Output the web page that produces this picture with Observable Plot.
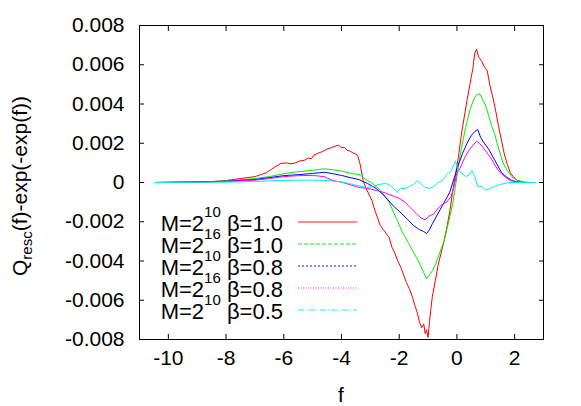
<!DOCTYPE html>
<html><head><meta charset="utf-8">
<script src="https://cdn.jsdelivr.net/npm/d3@7"></script>
<script src="https://cdn.jsdelivr.net/npm/@observablehq/plot@0.6"></script>
<style>
html,body{margin:0;padding:0;background:#fff}
svg{font-family:"Liberation Sans",Arial,Helvetica,sans-serif}
</style>
</head><body><div id="chart"></div>
<script>
// ---- data ----
const seriesNames = ["M=2^10 b=1.0", "M=2^16 b=1.0", "M=2^10 b=0.8", "M=2^16 b=0.8", "M=2^10 b=0.5"];
const seriesExp = ["10", "16", "10", "16", "10"];
const seriesBeta = ["1.0", "1.0", "0.8", "0.8", "0.5"];
const seriesColors = ["#ff0000", "#00ee00", "#0000ff", "#ff00ff", "#00eeee"];
const seriesDash = [null, "4,2", "2,2", "1,1.5", "6,2,1,2"];

const xTicks = [-10, -8, -6, -4, -2, 0, 2];
const yTicks = [-0.008, -0.006, -0.004, -0.002, 0, 0.002, 0.004, 0.006, 0.008];

const redF = [-10.45,-9.5,-8.5,-8,-7.5,-7,-6.6,-6.3,-6.1,-5.9,-5.75,-5.6,-5.45,-5.3,-5.15,-5.05,-4.95,-4.8,-4.65,-4.5,-4.35,-4.2,-4.1,-4.0,-3.9,-3.8,-3.7,-3.6,-3.5,-3.42,-3.35,-3.25,-3.15,-3.05,-2.95,-2.85,-2.75,-2.65,-2.55,-2.45,-2.35,-2.25,-2.15,-2.05,-1.95,-1.85,-1.75,-1.65,-1.55,-1.45,-1.38,-1.3,-1.22,-1.15,-1.1,-1.05,-1.0,-0.95,-0.9,-0.85,-0.75,-0.65,-0.55,-0.45,-0.35,-0.25,-0.15,-0.05,0.05,0.15,0.25,0.35,0.45,0.55,0.62,0.68,0.75,0.85,0.95,1.05,1.15,1.25,1.35,1.45,1.55,1.65,1.75,1.85,1.95,2.1,2.3,2.5,2.7];
const redQ = [0,0.00002,0.00005,0.0001,0.0002,0.0003,0.0005,0.0008,0.00097,0.001,0.00095,0.001,0.0011,0.00112,0.00125,0.0012,0.0014,0.0015,0.00158,0.0017,0.00178,0.00186,0.0019,0.00178,0.0018,0.00163,0.0016,0.0015,0.00145,0.0013,0.0009,0.0001,-0.0003,-0.0006,-0.0009,-0.0014,-0.0018,-0.0022,-0.0024,-0.0026,-0.0028,-0.0033,-0.0036,-0.004,-0.0043,-0.0047,-0.0051,-0.0054,-0.0058,-0.0063,-0.0066,-0.0071,-0.0074,-0.0072,-0.0077,-0.0075,-0.0079,-0.0071,-0.0064,-0.0058,-0.005,-0.0042,-0.0036,-0.003,-0.0023,-0.0015,-0.0005,0.0004,0.0013,0.0024,0.0033,0.0042,0.005,0.0058,0.0066,0.0068,0.0064,0.0062,0.0059,0.0057,0.0049,0.0043,0.0036,0.0028,0.0021,0.0014,0.0009,0.0005,0.0003,0.0001,0.00003,0,0];

const greenF = [-10.45,-9,-8,-7,-6.5,-6,-5.5,-5,-4.6,-4.3,-4,-3.7,-3.5,-3.35,-3.25,-3.1,-2.95,-2.8,-2.65,-2.5,-2.35,-2.2,-2.05,-1.9,-1.75,-1.6,-1.45,-1.3,-1.15,-1.05,-0.95,-0.85,-0.75,-0.6,-0.45,-0.3,-0.15,-0.05,0.05,0.15,0.3,0.45,0.6,0.7,0.8,0.9,1.0,1.1,1.2,1.3,1.45,1.6,1.75,1.9,2.1,2.4,2.7];
const greenQ = [0,0.00002,0.00008,0.0002,0.0003,0.00045,0.00055,0.00062,0.0007,0.00065,0.00058,0.00048,0.00042,0.0004,0.00025,0.0001,-0.00002,-0.0002,-0.0004,-0.0007,-0.001,-0.0015,-0.002,-0.0025,-0.0029,-0.0033,-0.0037,-0.0041,-0.0046,-0.0049,-0.0047,-0.0045,-0.0042,-0.0036,-0.003,-0.0021,-0.0011,-0.0002,0.0008,0.0017,0.0028,0.0037,0.0043,0.0045,0.0045,0.0042,0.0039,0.0034,0.0029,0.0025,0.0017,0.001,0.0006,0.0003,0.0001,0,0];

const blueF = [-10.45,-9,-8,-7,-6.5,-6,-5.5,-5,-4.6,-4.3,-4,-3.7,-3.4,-3.1,-2.8,-2.5,-2.2,-1.9,-1.7,-1.5,-1.3,-1.15,-1.05,-0.95,-0.85,-0.7,-0.55,-0.4,-0.25,-0.1,0.05,0.2,0.35,0.5,0.62,0.72,0.82,0.95,1.1,1.25,1.4,1.55,1.7,1.9,2.2,2.7];
const blueQ = [0,0.00002,0.00006,0.00015,0.00025,0.00035,0.0004,0.00046,0.00052,0.00045,0.00036,0.00025,0.00015,-0.00005,-0.0003,-0.0007,-0.0012,-0.0016,-0.0019,-0.0022,-0.0024,-0.0025,-0.0026,-0.0024,-0.0021,-0.0017,-0.0013,-0.0009,-0.0005,0.0002,0.0009,0.0015,0.002,0.0024,0.0026,0.0027,0.0023,0.002,0.0017,0.0013,0.0009,0.0005,0.0003,0.0001,0,0];

const magentaF = [-10.45,-9,-8,-7,-6.5,-6,-5.5,-5,-4.6,-4.3,-4,-3.7,-3.4,-3.1,-2.8,-2.5,-2.2,-2.0,-1.8,-1.6,-1.4,-1.25,-1.1,-0.95,-0.8,-0.65,-0.5,-0.35,-0.2,-0.1,0,0.1,0.25,0.4,0.55,0.68,0.78,0.9,1.05,1.2,1.35,1.5,1.65,1.85,2.2,2.7];
const magentaQ = [0,0.00002,0.00005,0.00012,0.0002,0.0003,0.00035,0.00036,0.0003,0.0001,0.00002,-0.00012,-0.00025,-0.0003,-0.0004,-0.00052,-0.0007,-0.0008,-0.001,-0.0013,-0.0016,-0.0018,-0.0019,-0.0017,-0.0016,-0.0013,-0.0011,-0.001,-0.0007,-0.0002,0.0005,0.0007,0.0012,0.0016,0.0019,0.0021,0.002,0.0018,0.0015,0.0012,0.0008,0.0005,0.0003,0.0001,0,0];

const cyanF = [-10.45,-8,-7,-6.2,-5.5,-5,-4.5,-4,-3.6,-3.3,-3.1,-2.9,-2.7,-2.5,-2.35,-2.2,-2.07,-1.95,-1.8,-1.65,-1.5,-1.38,-1.25,-1.1,-0.95,-0.8,-0.65,-0.5,-0.35,-0.2,-0.1,-0.05,0.05,0.15,0.3,0.42,0.52,0.62,0.72,0.85,1.0,1.15,1.3,1.5,1.8,2.7];
const cyanQ = [0,0.00002,0.00005,0.0001,0.00012,0.00012,0.0001,0.00003,-0.0001,-0.0002,-0.00025,-0.0002,-0.0001,-0.00005,-0.0001,-0.0003,-0.0005,-0.0003,-0.0003,-0.0002,-0.0001,0.0001,-0.00005,-0.00025,-0.0003,-0.0002,0,0.0001,0.0004,0.0006,0.0009,0.0011,0.0006,0.0005,0.0003,0.0004,0.0006,0.0003,-0.0002,-0.0002,-0.0004,-0.0003,-0.0002,-0.0001,0,0];

const seriesF = [redF, greenF, blueF, magentaF, cyanF];
const seriesQ = [redQ, greenQ, blueQ, magentaQ, cyanQ];

const rows = [];
seriesNames.forEach((name, i) => {
  seriesF[i].forEach((f, j) => rows.push({series: name, f, q: seriesQ[i][j]}));
});

const fmtY = d => d === 0 ? "0" : d.toFixed(3);
const fmtX = d => String(d);
const none = () => "";

const W = 581, H = 406, ML = 139, MR = 38, MT = 25, MB = 67;

const chart = Plot.plot({
  width: W, height: H,
  marginLeft: ML, marginRight: MR, marginTop: MT, marginBottom: MB,
  style: {background: "#fff", color: "#000", fontSize: "21px", fontFamily: '"Liberation Sans",Arial,Helvetica,sans-serif', overflow: "visible"},
  x: {domain: [-11, 3], label: null},
  y: {domain: [-0.008, 0.008], label: null},
  color: {domain: seriesNames, range: seriesColors},
  marks: [
    Plot.line(rows, {x: "f", y: "q", z: "series", stroke: "series", strokeWidth: 1}),
    Plot.frame({stroke: "#000", strokeWidth: 1}),
    Plot.axisY(yTicks, {anchor: "left", tickSize: 0, tickPadding: 15, tickFormat: fmtY, label: null}),
    Plot.axisY(yTicks, {anchor: "left", tickSize: -5, tickFormat: none, label: null}),
    Plot.axisY(yTicks, {anchor: "right", tickSize: -5, tickFormat: none, label: null}),
    Plot.axisX(xTicks, {anchor: "bottom", tickSize: 0, tickPadding: 11, tickFormat: fmtX, label: null}),
    Plot.axisX(xTicks, {anchor: "bottom", tickSize: -5, tickFormat: none, label: null}),
    Plot.axisX(xTicks, {anchor: "top", tickSize: -5, tickFormat: none, label: null})
  ]
});
document.getElementById("chart").appendChild(chart);

const svg = d3.select(chart);
// axis titles
svg.append("text")
  .attr("x", (ML + W - MR) / 2).attr("y", 402)
  .attr("text-anchor", "middle").attr("font-size", 21).attr("fill", "#000")
  .text("f");
const yl = svg.append("text")
  .attr("transform", "translate(27,186) rotate(-90)")
  .attr("text-anchor", "middle").attr("font-size", 21).attr("fill", "#000");
yl.append("tspan").text("Q");
yl.append("tspan").attr("font-size", 15).attr("dy", 5).text("resc");
yl.append("tspan").attr("dy", -5).text("(f)-exp(-exp(f))");

// legend
const lg = svg.append("g").attr("font-size", 22).attr("fill", "#000");
seriesNames.forEach((name, i) => {
  const base = 231 + i * 22.1;
  const t = lg.append("text").attr("x", 283).attr("y", base).attr("text-anchor", "end");
  t.append("tspan").text("M=2");
  t.append("tspan").attr("font-size", 15).attr("dy", -14).text(seriesExp[i]);
  t.append("tspan").attr("dy", 14).text(" \u03b2=" + seriesBeta[i]);
  lg.append("line")
    .attr("x1", 298).attr("x2", 357)
    .attr("y1", Math.round(base - 9.5)).attr("y2", Math.round(base - 9.5))
    .attr("stroke", seriesColors[i]).attr("stroke-width", 1.3).attr("stroke-opacity", 0.6)
    .attr("stroke-dasharray", seriesDash[i]);
});
</script>
</body></html>
